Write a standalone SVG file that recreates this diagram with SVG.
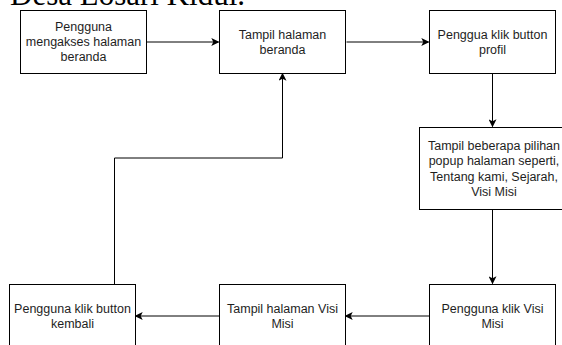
<svg xmlns="http://www.w3.org/2000/svg" width="562" height="345" viewBox="0 0 562 345">
  <defs>
    <marker id="arrow" viewBox="0 0 10 10" refX="9" refY="5" markerWidth="8" markerHeight="8" markerUnits="userSpaceOnUse" orient="auto">
      <path d="M0,0 L10,5 L0,10 L2.5,5 Z" fill="#000"/>
    </marker>
    <style>
      .box { fill: #fff; stroke: #000; stroke-width: 1; }
      .lbl { font-family: "Liberation Sans", Arial, Helvetica, sans-serif; font-size: 12.5px; fill: #1e1e1e; text-anchor: middle; }
      .edge { fill: none; stroke: #000; stroke-width: 1; marker-end: url(#arrow); }
      .title { font-family: "Liberation Serif", "Times New Roman", serif; font-size: 31px; fill: #000; }
    </style>
  </defs>

  <rect width="562" height="345" fill="#fff"/>

  <!-- heading line above the chart, clipped at the top edge -->
  <text class="title" x="10" y="5">Desa Losari Kidul.</text>

  <!-- connectors -->
  <g id="connectors">
    <path class="edge" d="M146.5,42 H218.5"/>
    <path class="edge" d="M346.5,42 H428.5"/>
    <path class="edge" d="M492.5,73 V126.5"/>
    <path class="edge" d="M492.5,209.5 V283.5"/>
    <path class="edge" d="M429,316 H345.5"/>
    <path class="edge" d="M219,316 H135.5"/>
    <path class="edge" d="M114.5,284 V158 H282.5 V73.5"/>
  </g>

  <g id="n1">
    <rect class="box" x="20.5" y="10.5" width="126" height="63"/>
    <text class="lbl" x="83.5" y="31.3">Pengguna</text>
    <text class="lbl" x="83.5" y="46.3">mengakses halaman</text>
    <text class="lbl" x="83.5" y="61.3">beranda</text>
  </g>

  <g id="n2">
    <rect class="box" x="219.5" y="10.5" width="126" height="63"/>
    <text class="lbl" x="282.5" y="38.6">Tampil halaman</text>
    <text class="lbl" x="282.5" y="53.6">beranda</text>
  </g>

  <g id="n3">
    <rect class="box" x="429.5" y="10.5" width="126" height="63"/>
    <text class="lbl" x="492.5" y="38.6">Penggua klik button</text>
    <text class="lbl" x="492.5" y="53.6">profil</text>
  </g>

  <g id="n4">
    <rect class="box" x="419.5" y="127.5" width="148" height="82"/>
    <text class="lbl" x="494" y="150">Tampil beberapa pilihan</text>
    <text class="lbl" x="494" y="165.3">popup halaman seperti,</text>
    <text class="lbl" x="494" y="180.6">Tentang kami, Sejarah,</text>
    <text class="lbl" x="494" y="195.9">Visi Misi</text>
  </g>

  <g id="n5">
    <rect class="box" x="429.5" y="284.5" width="126" height="63"/>
    <text class="lbl" x="492.5" y="312.6">Pengguna klik Visi</text>
    <text class="lbl" x="492.5" y="327.6">Misi</text>
  </g>

  <g id="n6">
    <rect class="box" x="219.5" y="284.5" width="126" height="63"/>
    <text class="lbl" x="282.5" y="312.6">Tampil halaman Visi</text>
    <text class="lbl" x="282.5" y="327.6">Misi</text>
  </g>

  <g id="n7">
    <rect class="box" x="9.5" y="284.5" width="126" height="63"/>
    <text class="lbl" x="72.5" y="312.6">Pengguna klik button</text>
    <text class="lbl" x="72.5" y="327.6">kembali</text>
  </g>
</svg>
